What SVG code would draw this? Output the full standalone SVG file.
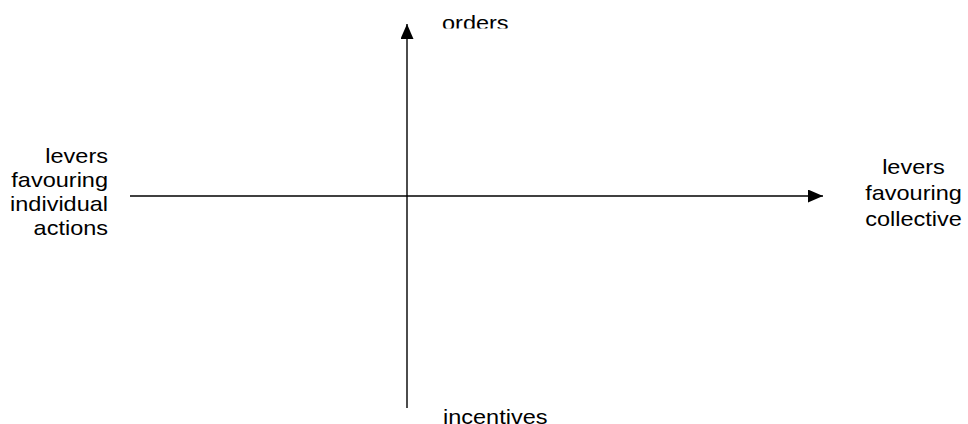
<svg xmlns="http://www.w3.org/2000/svg" width="968" height="424" viewBox="0 0 968 424">
<style>
text{font-family:"Liberation Sans",Arial,sans-serif;font-size:21px;fill:#000}
.ax{stroke:#000;stroke-width:1.4;fill:none}
</style>
<defs>
<marker id="ah" viewBox="0 0 15 13" refX="15" refY="6.5" markerWidth="15" markerHeight="13" markerUnits="userSpaceOnUse" orient="auto">
<path d="M0,0 L15,6.5 L0,13 Z" fill="#000"/>
</marker>
<clipPath id="topclip"><rect x="0" y="0" width="968" height="28.5"/></clipPath>
</defs>
<g id="connectors">
<line class="ax" x1="407" y1="408" x2="407" y2="24" marker-end="url(#ah)"/>
<line class="ax" x1="130" y1="196" x2="823" y2="196" marker-end="url(#ah)"/>
</g>
<g id="top" clip-path="url(#topclip)"><text x="442" y="29.5" textLength="66.6" lengthAdjust="spacingAndGlyphs">orders</text></g>
<g id="bottom"><text x="443" y="423.5" textLength="104.5" lengthAdjust="spacingAndGlyphs">incentives</text></g>
<g id="left" text-anchor="end">
<text x="108" y="163" textLength="62.7" lengthAdjust="spacingAndGlyphs">levers</text>
<text x="108" y="187" textLength="96.7" lengthAdjust="spacingAndGlyphs">favouring</text>
<text x="108" y="211" textLength="97.9" lengthAdjust="spacingAndGlyphs">individual</text>
<text x="108" y="235" textLength="74.4" lengthAdjust="spacingAndGlyphs">actions</text>
</g>
<g id="right" text-anchor="middle">
<text x="913.5" y="174" textLength="62.7" lengthAdjust="spacingAndGlyphs">levers</text>
<text x="913.5" y="200" textLength="96.7" lengthAdjust="spacingAndGlyphs">favouring</text>
<text x="913.5" y="226" textLength="96.6" lengthAdjust="spacingAndGlyphs">collective</text>
</g>
</svg>
